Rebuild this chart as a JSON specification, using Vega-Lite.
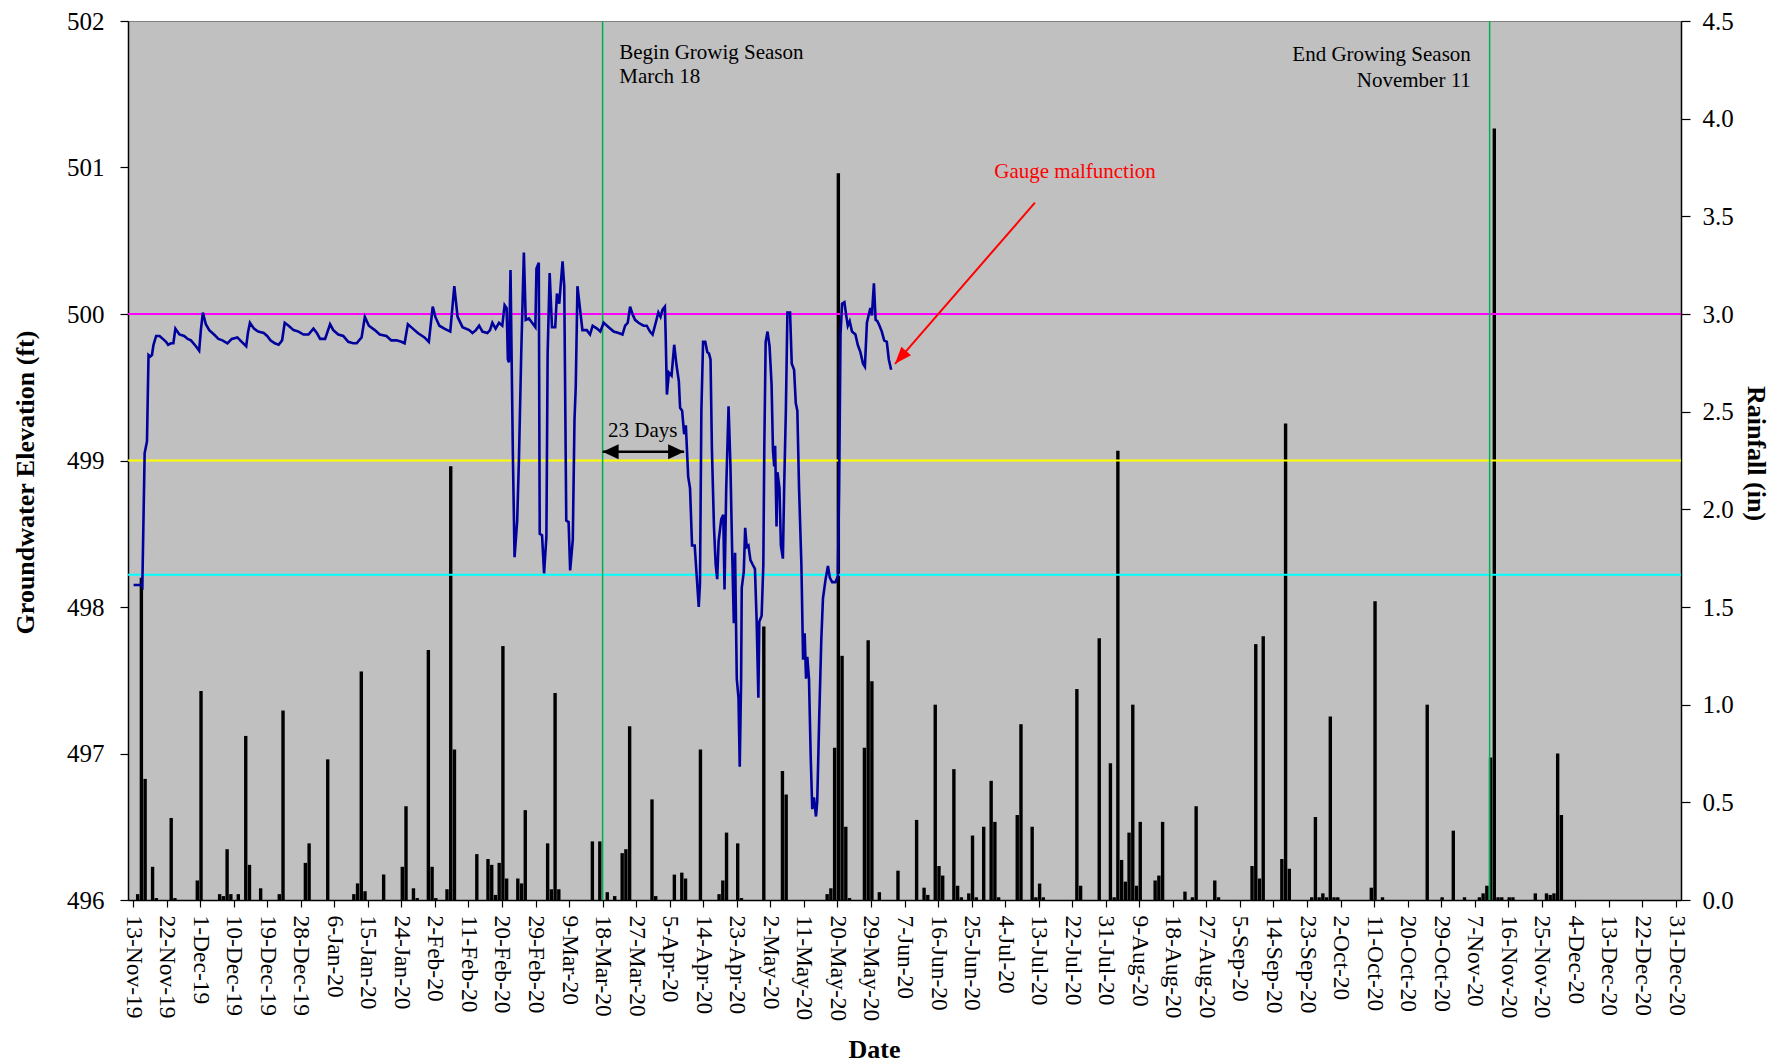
{
"$schema": "https://vega.github.io/schema/vega-lite/v6.json",
"width": 1553, "height": 879,
"autosize": {"type": "none"},
"padding": {"left": 128, "top": 21, "right": 92, "bottom": 162},
"config": {
  "font": "Liberation Serif",
  "view": {"stroke": "#808080", "fill": "#C0C0C0", "strokeWidth": 1},
  "axis": {"grid": false, "domainColor": "#000000", "tickColor": "#000000", "labelColor": "#000000", "titleColor": "#000000", "labelFont": "Liberation Serif", "titleFont": "Liberation Serif", "domainWidth": 1.5, "tickWidth": 1.2},
  "axisX": {"labelOverlap": false, "tickCount": 100}
},
"datasets": {
"rain": [
{"date":"2019-11-14T06:00","rain":0.03},{"date":"2019-11-15T06:00","rain":1.65},{"date":"2019-11-16T06:00","rain":0.62},{"date":"2019-11-18T06:00","rain":0.17},{"date":"2019-11-19T06:00","rain":0.01},{"date":"2019-11-23T06:00","rain":0.42},{"date":"2019-11-24T06:00","rain":0.01},{"date":"2019-11-30T06:00","rain":0.10},{"date":"2019-12-01T06:00","rain":1.07},{"date":"2019-12-06T06:00","rain":0.03},{"date":"2019-12-07T06:00","rain":0.02},{"date":"2019-12-08T06:00","rain":0.26},{"date":"2019-12-09T06:00","rain":0.03},{"date":"2019-12-11T06:00","rain":0.03},{"date":"2019-12-13T06:00","rain":0.84},{"date":"2019-12-14T06:00","rain":0.18},{"date":"2019-12-17T06:00","rain":0.06},{"date":"2019-12-22T06:00","rain":0.03},{"date":"2019-12-23T06:00","rain":0.97},{"date":"2019-12-29T06:00","rain":0.19},{"date":"2019-12-30T06:00","rain":0.29},
{"date":"2020-01-04T06:00","rain":0.72},{"date":"2020-01-11T06:00","rain":0.03},{"date":"2020-01-12T06:00","rain":0.085},{"date":"2020-01-13T06:00","rain":1.17},{"date":"2020-01-14T06:00","rain":0.045},{"date":"2020-01-19T06:00","rain":0.13},{"date":"2020-01-24T06:00","rain":0.17},{"date":"2020-01-25T06:00","rain":0.48},{"date":"2020-01-27T06:00","rain":0.06},{"date":"2020-01-28T06:00","rain":0.01},{"date":"2020-01-31T06:00","rain":1.28},
{"date":"2020-02-01T06:00","rain":0.17},{"date":"2020-02-02T06:00","rain":0.01},{"date":"2020-02-05T06:00","rain":0.055},{"date":"2020-02-06T06:00","rain":2.22},{"date":"2020-02-07T06:00","rain":0.77},{"date":"2020-02-13T06:00","rain":0.235},{"date":"2020-02-16T06:00","rain":0.21},{"date":"2020-02-17T06:00","rain":0.18},{"date":"2020-02-18T06:00","rain":0.026},{"date":"2020-02-19T06:00","rain":0.19},{"date":"2020-02-20T06:00","rain":1.30},{"date":"2020-02-21T06:00","rain":0.11},{"date":"2020-02-24T06:00","rain":0.11},{"date":"2020-02-25T06:00","rain":0.085},{"date":"2020-02-26T06:00","rain":0.46},
{"date":"2020-03-03T06:00","rain":0.29},{"date":"2020-03-04T06:00","rain":0.055},{"date":"2020-03-05T06:00","rain":1.06},{"date":"2020-03-06T06:00","rain":0.055},{"date":"2020-03-15T06:00","rain":0.30},{"date":"2020-03-17T06:00","rain":0.30},{"date":"2020-03-19T06:00","rain":0.04},{"date":"2020-03-21T06:00","rain":0.02},{"date":"2020-03-23T06:00","rain":0.24},{"date":"2020-03-24T06:00","rain":0.26},{"date":"2020-03-25T06:00","rain":0.89},{"date":"2020-03-31T06:00","rain":0.515},
{"date":"2020-04-01T06:00","rain":0.02},{"date":"2020-04-06T06:00","rain":0.13},{"date":"2020-04-08T06:00","rain":0.14},{"date":"2020-04-09T06:00","rain":0.11},{"date":"2020-04-13T06:00","rain":0.77},{"date":"2020-04-18T06:00","rain":0.03},{"date":"2020-04-19T06:00","rain":0.10},{"date":"2020-04-20T06:00","rain":0.345},{"date":"2020-04-23T06:00","rain":0.29},{"date":"2020-04-24T06:00","rain":0.01},{"date":"2020-04-30T06:00","rain":1.40},
{"date":"2020-05-05T06:00","rain":0.66},{"date":"2020-05-06T06:00","rain":0.54},{"date":"2020-05-17T06:00","rain":0.03},{"date":"2020-05-18T06:00","rain":0.06},{"date":"2020-05-19T06:00","rain":0.78},{"date":"2020-05-20T06:00","rain":3.72},{"date":"2020-05-21T06:00","rain":1.25},{"date":"2020-05-22T06:00","rain":0.375},{"date":"2020-05-23T06:00","rain":0.01},{"date":"2020-05-27T06:00","rain":0.78},{"date":"2020-05-28T06:00","rain":1.33},{"date":"2020-05-29T06:00","rain":1.12},{"date":"2020-05-31T06:00","rain":0.04},
{"date":"2020-06-05T06:00","rain":0.15},{"date":"2020-06-10T06:00","rain":0.41},{"date":"2020-06-12T06:00","rain":0.063},{"date":"2020-06-13T06:00","rain":0.026},{"date":"2020-06-15T06:00","rain":1.00},{"date":"2020-06-16T06:00","rain":0.174},{"date":"2020-06-17T06:00","rain":0.125},{"date":"2020-06-20T06:00","rain":0.67},{"date":"2020-06-21T06:00","rain":0.073},{"date":"2020-06-22T06:00","rain":0.014},{"date":"2020-06-24T06:00","rain":0.034},{"date":"2020-06-25T06:00","rain":0.33},{"date":"2020-06-26T06:00","rain":0.014},{"date":"2020-06-28T06:00","rain":0.375},{"date":"2020-06-30T06:00","rain":0.61},
{"date":"2020-07-01T06:00","rain":0.40},{"date":"2020-07-02T06:00","rain":0.014},{"date":"2020-07-07T06:00","rain":0.435},{"date":"2020-07-08T06:00","rain":0.90},{"date":"2020-07-11T06:00","rain":0.375},{"date":"2020-07-12T06:00","rain":0.014},{"date":"2020-07-13T06:00","rain":0.084},{"date":"2020-07-14T06:00","rain":0.014},{"date":"2020-07-23T06:00","rain":1.08},{"date":"2020-07-24T06:00","rain":0.073},{"date":"2020-07-29T06:00","rain":1.34},
{"date":"2020-08-01T06:00","rain":0.70},{"date":"2020-08-02T06:00","rain":0.014},{"date":"2020-08-03T06:00","rain":2.30},{"date":"2020-08-04T06:00","rain":0.205},{"date":"2020-08-05T06:00","rain":0.094},{"date":"2020-08-06T06:00","rain":0.345},{"date":"2020-08-07T06:00","rain":1.00},{"date":"2020-08-08T06:00","rain":0.073},{"date":"2020-08-09T06:00","rain":0.40},{"date":"2020-08-13T06:00","rain":0.10},{"date":"2020-08-14T06:00","rain":0.125},{"date":"2020-08-15T06:00","rain":0.40},{"date":"2020-08-21T06:00","rain":0.043},{"date":"2020-08-23T06:00","rain":0.014},{"date":"2020-08-24T06:00","rain":0.48},{"date":"2020-08-29T06:00","rain":0.10},{"date":"2020-08-30T06:00","rain":0.014},
{"date":"2020-09-08T06:00","rain":0.174},{"date":"2020-09-09T06:00","rain":1.31},{"date":"2020-09-10T06:00","rain":0.11},{"date":"2020-09-11T06:00","rain":1.35},{"date":"2020-09-16T06:00","rain":0.21},{"date":"2020-09-17T06:00","rain":2.44},{"date":"2020-09-18T06:00","rain":0.16},{"date":"2020-09-24T06:00","rain":0.014},{"date":"2020-09-25T06:00","rain":0.425},{"date":"2020-09-26T06:00","rain":0.014},{"date":"2020-09-27T06:00","rain":0.034},{"date":"2020-09-28T06:00","rain":0.014},{"date":"2020-09-29T06:00","rain":0.94},{"date":"2020-09-30T06:00","rain":0.014},
{"date":"2020-10-01T06:00","rain":0.014},{"date":"2020-10-10T06:00","rain":0.063},{"date":"2020-10-11T06:00","rain":1.53},{"date":"2020-10-13T06:00","rain":0.014},{"date":"2020-10-25T06:00","rain":1.00},{"date":"2020-10-29T06:00","rain":0.014},
{"date":"2020-11-01T06:00","rain":0.355},{"date":"2020-11-04T06:00","rain":0.014},{"date":"2020-11-08T06:00","rain":0.014},{"date":"2020-11-09T06:00","rain":0.034},{"date":"2020-11-10T06:00","rain":0.073},{"date":"2020-11-11T06:00","rain":0.73},{"date":"2020-11-12T06:00","rain":3.95},{"date":"2020-11-13T06:00","rain":0.014},{"date":"2020-11-14T06:00","rain":0.014},{"date":"2020-11-16T06:00","rain":0.014},{"date":"2020-11-17T06:00","rain":0.014},{"date":"2020-11-23T06:00","rain":0.034},{"date":"2020-11-26T06:00","rain":0.034},{"date":"2020-11-27T06:00","rain":0.026},{"date":"2020-11-28T06:00","rain":0.034},{"date":"2020-11-29T06:00","rain":0.75},{"date":"2020-11-30T06:00","rain":0.435}
],
"gw": [
{"date":"2019-11-13T04:00","elev":498.15},{"date":"2019-11-15T05:00","elev":498.15},{"date":"2019-11-15T12:00","elev":498.14},{"date":"2019-11-16T03:00","elev":499.05},{"date":"2019-11-16T18:00","elev":499.13},{"date":"2019-11-17T04:00","elev":499.72},{"date":"2019-11-17T15:00","elev":499.71},{"date":"2019-11-18T02:00","elev":499.72},{"date":"2019-11-18T12:00","elev":499.79},{"date":"2019-11-19T05:00","elev":499.85},{"date":"2019-11-20T03:00","elev":499.85},{"date":"2019-11-21T00:00","elev":499.83},{"date":"2019-11-21T21:00","elev":499.81},{"date":"2019-11-22T10:00","elev":499.79},{"date":"2019-11-23T05:00","elev":499.80},{"date":"2019-11-23T20:00","elev":499.80},{"date":"2019-11-24T09:00","elev":499.90},{"date":"2019-11-25T11:00","elev":499.86},{"date":"2019-11-26T18:00","elev":499.85},{"date":"2019-11-27T16:00","elev":499.83},{"date":"2019-11-28T13:00","elev":499.82},{"date":"2019-11-29T21:00","elev":499.78},{"date":"2019-11-30T18:00","elev":499.75},
{"date":"2019-12-01T05:00","elev":499.89},{"date":"2019-12-01T18:00","elev":500.01},{"date":"2019-12-02T13:00","elev":499.93},{"date":"2019-12-03T11:00","elev":499.89},{"date":"2019-12-04T18:00","elev":499.86},{"date":"2019-12-05T22:00","elev":499.83},{"date":"2019-12-07T00:00","elev":499.82},{"date":"2019-12-08T08:00","elev":499.80},{"date":"2019-12-09T12:00","elev":499.83},{"date":"2019-12-11T00:00","elev":499.84},{"date":"2019-12-12T04:00","elev":499.81},{"date":"2019-12-13T09:00","elev":499.78},{"date":"2019-12-13T20:00","elev":499.87},{"date":"2019-12-14T09:00","elev":499.94},{"date":"2019-12-15T11:00","elev":499.90},{"date":"2019-12-16T14:00","elev":499.88},{"date":"2019-12-18T02:00","elev":499.87},{"date":"2019-12-19T00:00","elev":499.85},{"date":"2019-12-19T21:00","elev":499.82},{"date":"2019-12-21T01:00","elev":499.80},{"date":"2019-12-22T02:00","elev":499.79},{"date":"2019-12-23T00:00","elev":499.82},{"date":"2019-12-23T17:00","elev":499.94},{"date":"2019-12-24T18:00","elev":499.92},{"date":"2019-12-26T02:00","elev":499.89},{"date":"2019-12-27T10:00","elev":499.88},{"date":"2019-12-28T18:00","elev":499.86},{"date":"2019-12-30T02:00","elev":499.86},{"date":"2019-12-31T10:00","elev":499.90},
{"date":"2020-01-01T08:00","elev":499.87},{"date":"2020-01-02T05:00","elev":499.83},{"date":"2020-01-03T13:00","elev":499.83},{"date":"2020-01-04T21:00","elev":499.93},{"date":"2020-01-05T18:00","elev":499.89},{"date":"2020-01-07T02:00","elev":499.86},{"date":"2020-01-08T10:00","elev":499.85},{"date":"2020-01-09T18:00","elev":499.81},{"date":"2020-01-11T02:00","elev":499.80},{"date":"2020-01-12T00:00","elev":499.80},{"date":"2020-01-13T08:00","elev":499.84},{"date":"2020-01-14T05:00","elev":499.98},{"date":"2020-01-15T07:00","elev":499.92},{"date":"2020-01-16T21:00","elev":499.89},{"date":"2020-01-18T05:00","elev":499.86},{"date":"2020-01-20T00:00","elev":499.85},{"date":"2020-01-21T07:00","elev":499.82},{"date":"2020-01-22T16:00","elev":499.82},{"date":"2020-01-24T00:00","elev":499.81},{"date":"2020-01-24T21:00","elev":499.80},{"date":"2020-01-25T18:00","elev":499.93},{"date":"2020-01-27T02:00","elev":499.90},{"date":"2020-01-28T10:00","elev":499.87},{"date":"2020-01-30T05:00","elev":499.84},{"date":"2020-01-31T09:00","elev":499.81},
{"date":"2020-02-01T10:00","elev":500.05},{"date":"2020-02-02T03:00","elev":499.98},{"date":"2020-02-03T05:00","elev":499.92},{"date":"2020-02-04T13:00","elev":499.90},{"date":"2020-02-06T03:00","elev":499.88},{"date":"2020-02-07T05:00","elev":500.19},{"date":"2020-02-08T02:00","elev":499.98},{"date":"2020-02-09T10:00","elev":499.91},{"date":"2020-02-11T05:00","elev":499.89},{"date":"2020-02-12T02:00","elev":499.87},{"date":"2020-02-13T00:00","elev":499.89},{"date":"2020-02-13T21:00","elev":499.92},{"date":"2020-02-14T18:00","elev":499.88},{"date":"2020-02-16T02:00","elev":499.87},{"date":"2020-02-16T19:00","elev":499.89},{"date":"2020-02-17T10:00","elev":499.94},{"date":"2020-02-18T07:00","elev":499.90},{"date":"2020-02-19T05:00","elev":499.94},{"date":"2020-02-20T02:00","elev":499.92},{"date":"2020-02-20T17:00","elev":500.06},{"date":"2020-02-21T06:00","elev":500.04},{"date":"2020-02-21T14:00","elev":499.69},{"date":"2020-02-21T21:00","elev":499.67},{"date":"2020-02-22T07:00","elev":500.30},{"date":"2020-02-22T22:00","elev":499.05},{"date":"2020-02-23T09:00","elev":498.34},{"date":"2020-02-24T02:00","elev":498.59},{"date":"2020-02-24T13:00","elev":499.00},{"date":"2020-02-25T04:00","elev":499.73},{"date":"2020-02-25T21:00","elev":500.42},{"date":"2020-02-26T09:00","elev":499.96},{"date":"2020-02-27T05:00","elev":499.97},{"date":"2020-02-28T02:00","elev":499.94},{"date":"2020-02-28T23:00","elev":499.91},{"date":"2020-02-29T06:00","elev":500.31},{"date":"2020-02-29T21:00","elev":500.35},
{"date":"2020-03-01T03:00","elev":498.50},{"date":"2020-03-01T18:00","elev":498.49},{"date":"2020-03-02T07:00","elev":498.23},{"date":"2020-03-02T22:00","elev":498.48},{"date":"2020-03-03T06:00","elev":499.73},{"date":"2020-03-03T19:00","elev":500.28},{"date":"2020-03-04T10:00","elev":499.91},{"date":"2020-03-05T07:00","elev":499.91},{"date":"2020-03-05T18:00","elev":500.14},{"date":"2020-03-06T09:00","elev":500.07},{"date":"2020-03-07T06:00","elev":500.36},{"date":"2020-03-07T17:00","elev":500.19},{"date":"2020-03-08T06:00","elev":498.59},{"date":"2020-03-08T21:00","elev":498.58},{"date":"2020-03-09T07:00","elev":498.25},{"date":"2020-03-10T00:00","elev":498.46},{"date":"2020-03-10T11:00","elev":499.28},{"date":"2020-03-10T19:00","elev":499.50},{"date":"2020-03-11T06:00","elev":500.19},{"date":"2020-03-11T23:00","elev":500.03},{"date":"2020-03-12T14:00","elev":499.89},{"date":"2020-03-13T18:00","elev":499.89},{"date":"2020-03-14T15:00","elev":499.86},{"date":"2020-03-15T08:00","elev":499.92},{"date":"2020-03-16T12:00","elev":499.90},{"date":"2020-03-17T09:00","elev":499.88},{"date":"2020-03-18T07:00","elev":499.94},{"date":"2020-03-19T15:00","elev":499.91},{"date":"2020-03-20T23:00","elev":499.88},{"date":"2020-03-22T07:00","elev":499.87},{"date":"2020-03-23T08:00","elev":499.86},{"date":"2020-03-24T01:00","elev":499.92},{"date":"2020-03-24T18:00","elev":499.94},{"date":"2020-03-25T09:00","elev":500.05},{"date":"2020-03-26T00:00","elev":500.00},{"date":"2020-03-26T17:00","elev":499.96},{"date":"2020-03-27T15:00","elev":499.94},{"date":"2020-03-28T23:00","elev":499.92},{"date":"2020-03-29T20:00","elev":499.92},{"date":"2020-03-30T17:00","elev":499.88},{"date":"2020-03-31T10:00","elev":499.86},
{"date":"2020-04-01T06:00","elev":499.94},{"date":"2020-04-01T23:00","elev":500.01},{"date":"2020-04-02T13:00","elev":499.98},{"date":"2020-04-03T02:00","elev":500.03},{"date":"2020-04-03T17:00","elev":500.05},{"date":"2020-04-03T22:00","elev":499.86},{"date":"2020-04-04T06:00","elev":499.45},{"date":"2020-04-04T19:00","elev":499.60},{"date":"2020-04-05T12:00","elev":499.58},{"date":"2020-04-06T05:00","elev":499.79},{"date":"2020-04-06T20:00","elev":499.65},{"date":"2020-04-07T11:00","elev":499.54},{"date":"2020-04-07T19:00","elev":499.36},{"date":"2020-04-08T08:00","elev":499.34},{"date":"2020-04-08T21:00","elev":499.18},{"date":"2020-04-09T08:00","elev":499.24},{"date":"2020-04-09T23:00","elev":498.89},{"date":"2020-04-10T11:00","elev":498.81},{"date":"2020-04-11T00:00","elev":498.42},{"date":"2020-04-11T17:00","elev":498.42},{"date":"2020-04-12T06:00","elev":498.21},{"date":"2020-04-12T19:00","elev":498.00},{"date":"2020-04-13T03:00","elev":498.16},{"date":"2020-04-13T12:00","elev":499.34},{"date":"2020-04-13T23:00","elev":499.81},{"date":"2020-04-14T13:00","elev":499.81},{"date":"2020-04-15T02:00","elev":499.74},{"date":"2020-04-15T13:00","elev":499.73},{"date":"2020-04-15T23:00","elev":499.69},{"date":"2020-04-16T08:00","elev":499.07},{"date":"2020-04-16T21:00","elev":498.55},{"date":"2020-04-17T08:00","elev":498.29},{"date":"2020-04-17T18:00","elev":498.19},{"date":"2020-04-18T03:00","elev":498.45},{"date":"2020-04-18T20:00","elev":498.60},{"date":"2020-04-19T09:00","elev":498.63},{"date":"2020-04-19T17:00","elev":498.12},{"date":"2020-04-20T04:00","elev":498.81},{"date":"2020-04-20T19:00","elev":499.37},{"date":"2020-04-21T07:00","elev":498.97},{"date":"2020-04-21T18:00","elev":498.39},{"date":"2020-04-22T05:00","elev":497.89},{"date":"2020-04-22T13:00","elev":498.37},{"date":"2020-04-23T00:00","elev":497.51},{"date":"2020-04-23T11:00","elev":497.38},{"date":"2020-04-23T19:00","elev":496.91},{"date":"2020-04-24T04:00","elev":497.51},{"date":"2020-04-24T08:00","elev":498.13},{"date":"2020-04-24T21:00","elev":498.24},{"date":"2020-04-25T06:00","elev":498.54},{"date":"2020-04-25T16:00","elev":498.41},{"date":"2020-04-26T03:00","elev":498.42},{"date":"2020-04-26T16:00","elev":498.32},{"date":"2020-04-27T06:00","elev":498.29},{"date":"2020-04-27T21:00","elev":498.26},{"date":"2020-04-28T08:00","elev":497.90},{"date":"2020-04-28T19:00","elev":497.38},{"date":"2020-04-29T01:00","elev":497.90},{"date":"2020-04-29T16:00","elev":497.94},{"date":"2020-04-30T03:00","elev":498.29},{"date":"2020-04-30T09:00","elev":499.07},{"date":"2020-04-30T18:00","elev":499.81},
{"date":"2020-05-01T06:00","elev":499.88},{"date":"2020-05-01T19:00","elev":499.78},{"date":"2020-05-02T08:00","elev":499.52},{"date":"2020-05-02T17:00","elev":499.07},{"date":"2020-05-03T01:00","elev":498.96},{"date":"2020-05-03T07:00","elev":499.10},{"date":"2020-05-03T16:00","elev":498.55},{"date":"2020-05-03T22:00","elev":498.92},{"date":"2020-05-04T11:00","elev":498.81},{"date":"2020-05-04T20:00","elev":498.42},{"date":"2020-05-05T09:00","elev":498.33},{"date":"2020-05-05T17:00","elev":498.81},{"date":"2020-05-06T04:00","elev":499.34},{"date":"2020-05-06T14:00","elev":500.01},{"date":"2020-05-07T07:00","elev":500.01},{"date":"2020-05-07T18:00","elev":499.66},{"date":"2020-05-08T09:00","elev":499.62},{"date":"2020-05-08T20:00","elev":499.39},{"date":"2020-05-09T06:00","elev":499.34},{"date":"2020-05-09T17:00","elev":498.81},{"date":"2020-05-10T08:00","elev":498.29},{"date":"2020-05-10T19:00","elev":497.64},{"date":"2020-05-11T05:00","elev":497.82},{"date":"2020-05-11T14:00","elev":497.51},{"date":"2020-05-11T22:00","elev":497.66},{"date":"2020-05-12T09:00","elev":497.51},{"date":"2020-05-12T20:00","elev":496.98},{"date":"2020-05-13T06:00","elev":496.62},{"date":"2020-05-13T17:00","elev":496.70},{"date":"2020-05-14T06:00","elev":496.57},{"date":"2020-05-14T14:00","elev":496.67},{"date":"2020-05-15T03:00","elev":497.25},{"date":"2020-05-15T16:00","elev":497.77},{"date":"2020-05-16T03:00","elev":498.06},{"date":"2020-05-16T20:00","elev":498.19},{"date":"2020-05-17T11:00","elev":498.28},{"date":"2020-05-17T23:00","elev":498.20},{"date":"2020-05-18T14:00","elev":498.17},{"date":"2020-05-19T12:00","elev":498.17},{"date":"2020-05-20T03:00","elev":498.21},{"date":"2020-05-20T11:00","elev":498.81},{"date":"2020-05-20T20:00","elev":499.86},{"date":"2020-05-21T06:00","elev":500.07},{"date":"2020-05-21T21:00","elev":500.08},{"date":"2020-05-22T10:00","elev":499.98},{"date":"2020-05-22T19:00","elev":499.92},{"date":"2020-05-23T07:00","elev":499.95},{"date":"2020-05-23T22:00","elev":499.88},{"date":"2020-05-24T20:00","elev":499.86},{"date":"2020-05-25T11:00","elev":499.79},{"date":"2020-05-26T04:00","elev":499.74},{"date":"2020-05-26T21:00","elev":499.66},{"date":"2020-05-27T09:00","elev":499.64},{"date":"2020-05-27T22:00","elev":499.94},{"date":"2020-05-28T11:00","elev":500.00},{"date":"2020-05-28T20:00","elev":500.04},{"date":"2020-05-29T06:00","elev":499.99},{"date":"2020-05-29T19:00","elev":500.21},{"date":"2020-05-30T06:00","elev":499.96},{"date":"2020-05-30T18:00","elev":499.95},{"date":"2020-05-31T07:00","elev":499.92},{"date":"2020-05-31T22:00","elev":499.88},{"date":"2020-06-01T13:00","elev":499.82},{"date":"2020-06-02T06:00","elev":499.81},{"date":"2020-06-02T19:00","elev":499.69},{"date":"2020-06-03T10:00","elev":499.62}
]
},
"layer": [
 {"layer": [
  {"data": {"name": "rain"},
   "mark": {"type": "bar", "width": 3.4, "color": "#000000"},
   "encoding": {
    "x": {"field": "date", "type": "temporal",
      "scale": {"domain": [{"year":2019,"month":11,"date":13},{"year":2020,"month":12,"date":31}], "nice": false},
      "axis": {"title": "Date", "format": "%-d-%b-%y", "labelAngle": 90, "labelFontSize": 23.5, "labelPadding": 8, "tickSize": 7, "tickCount": 100, "labelFlush": false, "labelOverlap": false, "labelBound": false,
        "titleFontSize": 26, "titleFontWeight": "bold", "titleX": 746, "titleY": 149, "titleBaseline": "middle", "titleAlign": "center",
        "values": [{"year":2019,"month":11,"date":13},{"year":2019,"month":11,"date":22},{"year":2019,"month":12,"date":1},{"year":2019,"month":12,"date":10},{"year":2019,"month":12,"date":19},{"year":2019,"month":12,"date":28},
          {"year":2020,"month":1,"date":6},{"year":2020,"month":1,"date":15},{"year":2020,"month":1,"date":24},{"year":2020,"month":2,"date":2},{"year":2020,"month":2,"date":11},{"year":2020,"month":2,"date":20},{"year":2020,"month":2,"date":29},{"year":2020,"month":3,"date":9},{"year":2020,"month":3,"date":18},{"year":2020,"month":3,"date":27},{"year":2020,"month":4,"date":5},{"year":2020,"month":4,"date":14},{"year":2020,"month":4,"date":23},{"year":2020,"month":5,"date":2},{"year":2020,"month":5,"date":11},{"year":2020,"month":5,"date":20},{"year":2020,"month":5,"date":29},{"year":2020,"month":6,"date":7},{"year":2020,"month":6,"date":16},{"year":2020,"month":6,"date":25},{"year":2020,"month":7,"date":4},{"year":2020,"month":7,"date":13},{"year":2020,"month":7,"date":22},{"year":2020,"month":7,"date":31},{"year":2020,"month":8,"date":9},{"year":2020,"month":8,"date":18},{"year":2020,"month":8,"date":27},{"year":2020,"month":9,"date":5},{"year":2020,"month":9,"date":14},{"year":2020,"month":9,"date":23},{"year":2020,"month":10,"date":2},{"year":2020,"month":10,"date":11},{"year":2020,"month":10,"date":20},{"year":2020,"month":10,"date":29},{"year":2020,"month":11,"date":7},{"year":2020,"month":11,"date":16},{"year":2020,"month":11,"date":25},{"year":2020,"month":12,"date":4},{"year":2020,"month":12,"date":13},{"year":2020,"month":12,"date":22},{"year":2020,"month":12,"date":31}]}},
    "y": {"field": "rain", "type": "quantitative",
      "scale": {"domain": [0, 4.5], "nice": false, "zero": true},
      "axis": {"orient": "right", "title": "Rainfall (in)", "values": [0,0.5,1,1.5,2,2.5,3,3.5,4,4.5], "format": ".1f", "labelFontSize": 25, "tickSize": 9, "labelPadding": 12,
        "titleFontSize": 26, "titleFontWeight": "bold", "titleAngle": 90, "titleX": 74, "titleY": 432, "titleBaseline": "middle", "titleAlign": "center"}}
   }}
 ]},
 {"layer": [
  {"data": {"values": [{"level": 500}, {"level": 499}, {"level": 498.22}]},
   "mark": {"type": "rule", "strokeWidth": 2.2},
   "encoding": {
    "y": {"field": "level", "type": "quantitative", "scale": {"domain": [496, 502], "nice": false, "zero": false}},
    "color": {"field": "level", "type": "nominal", "scale": {"domain": [500, 499, 498.22], "range": ["#FF00FF", "#FFFF00", "#00FFFF"]}, "legend": null}
   }},
  {"data": {"values": [{"date": "2020-03-18T00:00"}, {"date": "2020-11-11T00:00"}]},
   "mark": {"type": "rule", "strokeWidth": 1.5, "color": "#00B050"},
   "encoding": {
    "x": {"field": "date", "type": "temporal", "scale": {"domain": [{"year":2019,"month":11,"date":13},{"year":2020,"month":12,"date":31}], "nice": false}}
   }},
  {"data": {"name": "gw"},
   "mark": {"type": "line", "color": "#00009C", "strokeWidth": 2.6, "clip": true},
   "encoding": {
    "x": {"field": "date", "type": "temporal", "scale": {"domain": [{"year":2019,"month":11,"date":13},{"year":2020,"month":12,"date":31}], "nice": false}},
    "y": {"field": "elev", "type": "quantitative", "scale": {"domain": [496, 502], "nice": false, "zero": false},
      "axis": {"orient": "left", "title": "Groundwater Elevation (ft)", "values": [496,497,498,499,500,501,502], "format": "d", "labelFontSize": 25, "tickSize": 8, "labelPadding": 16,
        "titleFontSize": 26, "titleFontWeight": "bold", "titleAngle": 270, "titleX": -103, "titleY": 461, "titleBaseline": "middle", "titleAlign": "center"}}
   }},
  {"data": {"values": [{"date": "2020-03-18T00:00", "elev": 499.06, "date2": "2020-04-08T21:00", "elev2": 499.06}]},
   "mark": {"type": "rule", "strokeWidth": 2.5, "color": "#000000"},
   "encoding": {
    "x": {"field": "date", "type": "temporal"}, "x2": {"field": "date2"},
    "y": {"field": "elev", "type": "quantitative"}, "y2": {"field": "elev2"}
   }},
  {"data": {"values": [{"date": "2020-03-18T00:00", "elev": 499.06}]},
   "mark": {"type": "point", "shape": "M0,0L0.47,1L-0.47,1Z", "size": 1024, "angle": 270, "filled": true, "color": "#000000", "opacity": 1, "strokeWidth": 0},
   "encoding": {"x": {"field": "date", "type": "temporal"}, "y": {"field": "elev", "type": "quantitative"}}},
  {"data": {"values": [{"date": "2020-04-08T21:00", "elev": 499.06}]},
   "mark": {"type": "point", "shape": "M0,0L0.47,1L-0.47,1Z", "size": 1024, "angle": 90, "filled": true, "color": "#000000", "opacity": 1, "strokeWidth": 0},
   "encoding": {"x": {"field": "date", "type": "temporal"}, "y": {"field": "elev", "type": "quantitative"}}},
  {"data": {"values": [{"date": "2020-07-12T00:00", "elev": 500.76, "date2": "2020-06-04T11:00", "elev2": 499.66}]},
   "mark": {"type": "rule", "strokeWidth": 2, "color": "#FF0000"},
   "encoding": {
    "x": {"field": "date", "type": "temporal"}, "x2": {"field": "date2"},
    "y": {"field": "elev", "type": "quantitative"}, "y2": {"field": "elev2"}
   }},
  {"data": {"values": [{"date": "2020-06-04T11:00", "elev": 499.66}]},
   "mark": {"type": "point", "shape": "M0,0L0.38,1L-0.38,1Z", "size": 1156, "angle": 221, "filled": true, "color": "#FF0000", "opacity": 1, "strokeWidth": 0},
   "encoding": {"x": {"field": "date", "type": "temporal"}, "y": {"field": "elev", "type": "quantitative"}}},
  {"data": {"values": [{"date": "2020-03-22T11:00", "elev": 501.78, "label": "Begin Growig Season"}, {"date": "2020-03-22T11:00", "elev": 501.62, "label": "March 18"}]},
   "mark": {"type": "text", "align": "left", "baseline": "middle", "fontSize": 21, "color": "#000000"},
   "encoding": {"x": {"field": "date", "type": "temporal"}, "y": {"field": "elev", "type": "quantitative"}, "text": {"field": "label"}}},
  {"data": {"values": [{"date": "2020-11-05T23:00", "elev": 501.765, "label": "End Growing Season"}, {"date": "2020-11-05T23:00", "elev": 501.588, "label": "November 11"}]},
   "mark": {"type": "text", "align": "right", "baseline": "middle", "fontSize": 21, "color": "#000000"},
   "encoding": {"x": {"field": "date", "type": "temporal"}, "y": {"field": "elev", "type": "quantitative"}, "text": {"field": "label"}}},
  {"data": {"values": [{"date": "2020-03-28T18:00", "elev": 499.20, "label": "23 Days"}]},
   "mark": {"type": "text", "align": "center", "baseline": "middle", "fontSize": 21, "color": "#000000"},
   "encoding": {"x": {"field": "date", "type": "temporal"}, "y": {"field": "elev", "type": "quantitative"}, "text": {"field": "label"}}},
  {"data": {"values": [{"date": "2020-07-22T18:00", "elev": 500.97, "label": "Gauge malfunction"}]},
   "mark": {"type": "text", "align": "center", "baseline": "middle", "fontSize": 21, "color": "#FF0000"},
   "encoding": {"x": {"field": "date", "type": "temporal"}, "y": {"field": "elev", "type": "quantitative"}, "text": {"field": "label"}}}
 ]}
],
"resolve": {"scale": {"y": "independent"}, "axis": {"y": "independent"}}
}
